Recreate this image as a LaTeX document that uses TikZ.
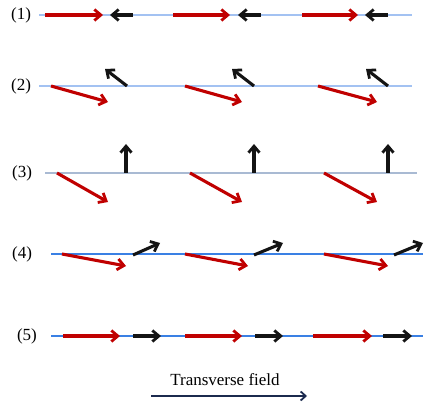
\documentclass[tikz,border=0pt]{standalone}
\usepackage{fontspec}
\setmainfont{Liberation Serif}
\usepackage{xcolor}
\usetikzlibrary{arrows.meta, positioning}

\definecolor{spinred}{HTML}{C00000}
\definecolor{spinblack}{HTML}{141414}
\definecolor{chainblue}{HTML}{A3C2F2}
\definecolor{chaingrey}{HTML}{A9BAD3}
\definecolor{chainbright}{HTML}{3A80E4}
\definecolor{fieldnavy}{HTML}{1B2A4E}

\begin{document}
\begin{tikzpicture}[x=1pt,y=-1pt,
  lbl/.style={font=\fontsize{17}{20}\selectfont, inner sep=0pt},
  spin/.style={line width=3.1pt, -{Straight Barb[length=6.5pt,width=11pt,line width=2.8pt]}},
  redspin/.style={spin, spinred},
  blackspin/.style={spin, spinblack}]
  \useasboundingbox (0,0) rectangle (436,406);

  % chains
  \draw[chainblue, line width=2pt]     (39,15)  -- (412,15);
  \draw[chainblue, line width=2pt]     (39,86)  -- (412,86);
  \draw[chaingrey, line width=2.4pt]   (45,173) -- (417,173);
  \draw[chainbright, line width=1.1pt] (51,254) -- (423,254);
  \draw[chainbright, line width=1.1pt] (51,336) -- (423,336);

  % row labels
  \node[lbl] (r1) at (21,15)  {(1)};
  \node[lbl] (r2) at (21,86)  {(2)};
  \node[lbl] (r3) at (22,173) {(3)};
  \node[lbl] (r4) at (22,254) {(4)};
  \node[lbl] (r5) at (27,336) {(5)};

  % (1) antiparallel along the chain
  \foreach \a/\b/\c/\d in {45/103/133/110, 173/230/261/238, 302/358/388/365}{
    \draw[redspin]   (\a,15) -- (\b,15);
    \draw[blackspin] (\c,15) -- (\d,15);
  }

  % (2) canted
  \foreach \a/\b/\c/\d in {51/108/127/105, 185/242/254/232, 318/377/388/366}{
    \draw[redspin]   (\a,86) -- (\b,102);
    \draw[blackspin] (\c,86) -- (\d,69);
  }

  % (3) perpendicular sublattice
  \foreach \a/\b/\c in {57/108/126, 190/242/254, 324/377/388}{
    \draw[redspin]   (\a,173) -- (\b,202);
    \draw[blackspin] (\c,173) -- (\c,144);
  }

  % (4) tilting toward the field
  \foreach \a/\b/\c/\d in {62/126/133/160, 185/248/254/283, 324/388/394/423}{
    \draw[redspin]   (\a,254) -- (\b,266);
    \draw[blackspin] (\c,255) -- (\d,243);
  }

  % (5) aligned with the field
  \foreach \a/\b/\c/\d in {63/120/133/161, 185/242/255/283, 313/372/383/412}{
    \draw[redspin]   (\a,336) -- (\b,336);
    \draw[blackspin] (\c,336) -- (\d,336);
  }

  % field
  \node[lbl] (fld) at (225,380) {Transverse field};
  \coordinate (f0) at (151,396);
  \coordinate (f1) at (307,396);
  \draw[fieldnavy, line width=2pt, -{Straight Barb[length=5pt,width=9pt,line width=1.8pt]}] (f0) -- (f1);
\end{tikzpicture}
\end{document}
